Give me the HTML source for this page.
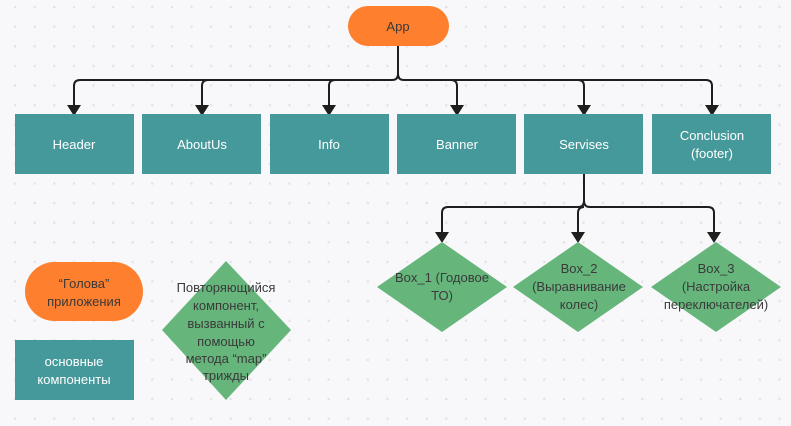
<!DOCTYPE html>
<html><head><meta charset="utf-8"><style>
html,body{margin:0;padding:0;background:#f8f8fa;}
svg{display:block;}
text{font-family:"Liberation Sans","Noto Sans CJK SC",sans-serif;font-size:13px;text-anchor:middle;}
.w{fill:#fff}.d{fill:#3a3a3a}
</style></head><body>
<svg width="791" height="426" viewBox="0 0 791 426" xmlns="http://www.w3.org/2000/svg">
<defs>
<pattern id="g" x="5" y="-3" width="19.6" height="19.6" patternUnits="userSpaceOnUse">
<rect x="9" y="9" width="2.2" height="2.2" fill="#e2e2e6"/></pattern>
</defs>
<rect width="791" height="426" fill="#f8f8fa"/>
<rect width="791" height="426" fill="url(#g)"/>
<g fill="none" stroke="#1e1e1e" stroke-width="2">
<path d="M398,46 V74 Q398,80 392,80 H80 Q74,80 74,86 V110"/>
<path d="M398,74 Q398,80 404,80 H706 Q712,80 712,86 V110"/>
<path d="M208,80 Q202,80 202,86 V110"/>
<path d="M335,80 Q329,80 329,86 V110"/>
<path d="M451,80 Q457,80 457,86 V110"/>
<path d="M578,80 Q584,80 584,86 V110"/>
<path d="M584,174 V201 Q584,207 578,207 H448 Q442,207 442,213 V236"/>
<path d="M584,201 Q584,207 590,207 H708 Q714,207 714,213 V236"/>
<path d="M584,207 Q578,207 578,213 V236"/>
</g>
<g fill="#1e1e1e">
<path d="M67,105 L81,105 L74,116z"/><path d="M195,105 L209,105 L202,116z"/>
<path d="M322,105 L336,105 L329,116z"/><path d="M450,105 L464,105 L457,116z"/>
<path d="M577,105 L591,105 L584,116z"/><path d="M705,105 L719,105 L712,116z"/>
<path d="M435,232 L449,232 L442,243z"/><path d="M571,232 L585,232 L578,243z"/>
<path d="M707,232 L721,232 L714,243z"/>
</g>
<rect x="348" y="6" width="101" height="40" rx="20" fill="#fe7f2d"/>
<text x="398" y="31" class="d">App</text>
<g fill="#46999b">
<rect x="15" y="114" width="119" height="60"/><rect x="142" y="114" width="119" height="60"/>
<rect x="270" y="114" width="119" height="60"/><rect x="397" y="114" width="119" height="60"/>
<rect x="524" y="114" width="119" height="60"/><rect x="652" y="114" width="119" height="60"/>
<rect x="15" y="340" width="119" height="60"/>
</g>
<text x="74" y="149" class="w">Header</text>
<text x="202" y="149" class="w">AboutUs</text>
<text x="329" y="149" class="w">Info</text>
<text x="457" y="149" class="w">Banner</text>
<text x="584" y="149" class="w">Servises</text>
<text x="712" y="140" class="w">Conclusion</text>
<text x="712" y="158" class="w">(footer)</text>
<g fill="#66b67c">
<path d="M442,242 L507,287 L442,332 L377,287z"/>
<path d="M578,242 L643,287 L578,332 L513,287z"/>
<path d="M716,242 L781,287 L716,332 L651,287z"/>
<path d="M226,261 L291,330 L226,400 L162,330z"/>
</g>
<text x="442" y="282" class="d">Box_1 (Годовое</text>
<text x="442" y="300" class="d">ТО)</text>
<text x="579" y="273" class="d">Box_2</text>
<text x="579" y="291" class="d">(Выравнивание</text>
<text x="579" y="309" class="d">колес)</text>
<text x="716" y="273" class="d">Box_3</text>
<text x="716" y="291" class="d">(Настройка</text>
<text x="716" y="309" class="d">переключателей)</text>
<rect x="25" y="262" width="118" height="59" rx="29.5" fill="#fe7f2d"/>
<text x="84" y="288" class="d">“Голова”</text>
<text x="84" y="306" class="d">приложения</text>
<text x="74" y="366" class="w">основные</text>
<text x="74" y="384" class="w">компоненты</text>
<text x="226" y="292" class="d">Повторяющийся</text>
<text x="226" y="310" class="d">компонент,</text>
<text x="226" y="328" class="d">вызванный с</text>
<text x="226" y="346" class="d">помощью</text>
<text x="226" y="363" class="d">метода “map”</text>
<text x="226" y="380" class="d">трижды</text>
</svg>
</body></html>
